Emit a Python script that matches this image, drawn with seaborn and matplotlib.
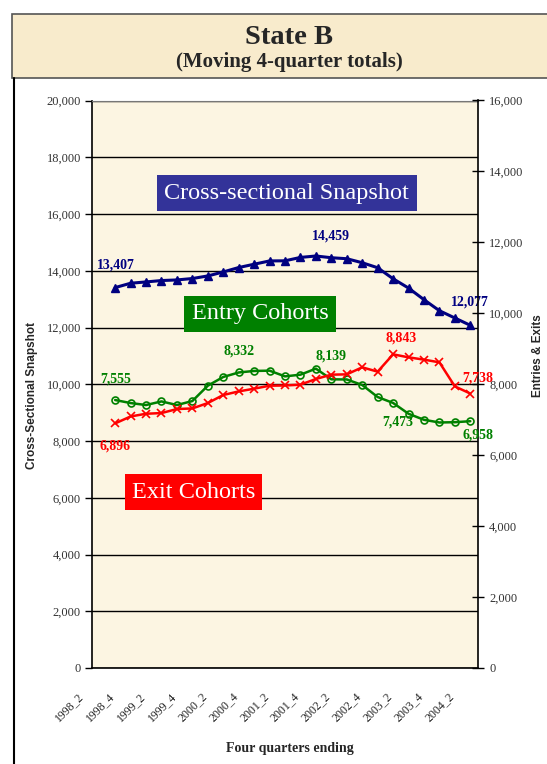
import matplotlib
matplotlib.use("Agg")
import matplotlib.pyplot as plt
import matplotlib.transforms as mtransforms
from matplotlib.patches import Rectangle
from matplotlib.lines import Line2D
from matplotlib.ticker import FuncFormatter, MultipleLocator
import seaborn as sns

# category axis: four quarters ending (first category has no data)
quarters = ["1998_2", "1998_3", "1998_4", "1999_1", "1999_2", "1999_3", "1999_4",
            "2000_1", "2000_2", "2000_3", "2000_4", "2001_1", "2001_2", "2001_3",
            "2001_4", "2002_1", "2002_2", "2002_3", "2002_4", "2003_1", "2003_2",
            "2003_3", "2003_4", "2004_1", "2004_2"]
data_quarters = quarters[1:]

# moving 4-quarter totals, 1998_3 .. 2004_2
snapshot = [13407, 13560, 13606, 13655, 13676, 13726, 13817, 13958, 14113, 14230,
            14346, 14350, 14470, 14520, 14459, 14424, 14283, 14106, 13718, 13390,
            12981, 12592, 12335, 12077]
entry = [7555, 7470, 7414, 7516, 7414, 7527, 7959, 8205, 8332, 8375,
         8383, 8222, 8270, 8440, 8139, 8135, 7979, 7640, 7473, 7168,
         6998, 6922, 6930, 6958]
exits = [6896, 7092, 7168, 7188, 7301, 7318, 7470, 7697, 7798, 7875,
         7959, 7965, 7988, 8149, 8270, 8279, 8477, 8355, 8843, 8759,
         8694, 8618, 7940, 7738]

# which points carry a value label
snapshot_labels = ["1998_3", "2002_1", "2004_2"]
entry_labels = ["1998_3", "2000_3", "2002_1", "2003_1", "2004_2"]
exit_labels = ["1998_3", "2003_1", "2004_2"]

NAVY = "#000080"
GREEN = "#008000"
RED = "#FF0000"
SERIF = ["Liberation Serif", "DejaVu Serif"]
SANS = ["Liberation Sans", "DejaVu Sans"]

sns.set_style("white")
plt.rcParams["font.family"] = SERIF

fig = plt.figure(figsize=(5.47, 7.64), dpi=100)
ax = fig.add_axes([92 / 547, 1 - 668 / 764, 386 / 547, 567.5 / 764])
ax2 = ax.twinx()

pos = {q: i for i, q in enumerate(quarters)}
xs = [pos[q] for q in data_quarters]

sns.lineplot(x=xs, y=snapshot, ax=ax, color=NAVY, linewidth=2.2, marker="^",
             markersize=5.5, markeredgecolor=NAVY, markeredgewidth=1)
sns.lineplot(x=xs, y=entry, ax=ax2, color=GREEN, linewidth=1.8, marker="o",
             markersize=5, markerfacecolor="none", markeredgecolor=GREEN,
             markeredgewidth=1.2)
sns.lineplot(x=xs, y=exits, ax=ax2, color=RED, linewidth=1.8, marker="x",
             markersize=6, markeredgecolor=RED, markeredgewidth=1.2)

ax.set_xlim(-0.5, len(quarters) - 0.5)
ax.set_ylim(0, 20000)
ax2.set_ylim(0, 16000)
ax.set_facecolor("#FCF5E2")
ax.yaxis.set_major_locator(MultipleLocator(2000))
ax2.yaxis.set_major_locator(MultipleLocator(2000))
fmt = FuncFormatter(lambda v, p: f"{int(v):,}")
ax.yaxis.set_major_formatter(fmt)
ax2.yaxis.set_major_formatter(fmt)
ax.grid(axis="y", color="black", linewidth=1)
ax.grid(axis="x", visible=False)
ax2.grid(False)

# x ticks: labels every other quarter, tick marks on category boundaries
ax.set_xticks(range(0, len(quarters), 2))
ax.set_xticklabels(quarters[::2], rotation=45, ha="right", va="top",
                   fontsize=8.5, color="#222222")
ax.set_xticks([i - 0.5 for i in range(len(quarters) + 1)], minor=True)
ax.tick_params(axis="x", which="major", length=0, pad=16)
ax.tick_params(axis="x", which="minor", length=4, width=1, color="black",
               direction="out")
shift = mtransforms.ScaledTranslation(-14 / 100, 0, fig.dpi_scale_trans)
for lab in ax.get_xticklabels():
    lab.set_transform(lab.get_transform() + shift)

ax.tick_params(axis="y", length=5, width=1, color="black", direction="out",
               labelsize=9, labelcolor="#333333", pad=3, left=True)
ax2.tick_params(axis="y", length=8, width=1, color="black", direction="inout",
                labelsize=9, labelcolor="#333333", pad=4, right=True)

for spine in ["left", "bottom"]:
    ax.spines[spine].set_color("black")
    ax.spines[spine].set_linewidth(1.2)
ax.spines["top"].set_color("#777777")
ax.spines["right"].set_visible(False)
ax2.spines["right"].set_color("black")
ax2.spines["right"].set_linewidth(1.2)
for spine in ["left", "top", "bottom"]:
    ax2.spines[spine].set_visible(False)

ax.set_xlabel("Four quarters ending", fontsize=10, fontweight="bold")
ax.xaxis.set_label_coords(0.513, -0.13)
ax.set_ylabel("Cross-Sectional Snapshot", fontsize=8.5, fontweight="bold",
              family=SANS)
ax.yaxis.set_label_coords(-0.14, 0.48)
ax2.set_ylabel("Entries & Exits", fontsize=8.5, fontweight="bold", family=SANS)
ax2.yaxis.set_label_coords(1.14, 0.55)

# value labels (offsets in pixels from the point)
def label_points(axis, labels, values, color, offsets):
    for q, (dx, dy) in zip(labels, offsets):
        v = values[data_quarters.index(q)]
        axis.annotate(f"{v:,}", (pos[q], v), xytext=(dx, dy),
                      textcoords="offset pixels", ha="center", va="center",
                      fontsize=10, fontweight="bold", color=color)

label_points(ax, snapshot_labels, snapshot, NAVY, [(1, 23), (0, 22), (0, 23)])
label_points(ax2, entry_labels, entry, GREEN,
             [(1, 21), (0, 21), (0, 23), (5, -19), (8, -14)])
label_points(ax2, exit_labels, exits, RED, [(0, -23), (8, 16), (7, 16)])

# series name boxes
box_text = dict(fontsize=17.5, color="white", ha="center", va="center",
                transform=ax.transAxes)
ax2.text(0.505, 0.837, "Cross-sectional Snapshot",
         bbox=dict(boxstyle="square,pad=0.3", fc="#333399", ec="none"), **box_text)
ax2.text(0.435, 0.624, "Entry Cohorts",
         bbox=dict(boxstyle="square,pad=0.3", fc=GREEN, ec="none"), **box_text)
ax2.text(0.263, 0.310, "Exit Cohorts",
         bbox=dict(boxstyle="square,pad=0.3", fc=RED, ec="none"), **box_text)

# title panel and outer frame
fig.patches.append(Rectangle((12 / 547, 1 - 78 / 764), 1.0, 64 / 764,
                             transform=fig.transFigure, facecolor="#F8EBCC",
                             edgecolor="#555555", linewidth=1.2, zorder=0))
fig.lines.append(Line2D([14 / 547, 14 / 547], [0, 1 - 78 / 764],
                        transform=fig.transFigure, color="black", linewidth=1.5))
fig.text(289 / 547, 1 - 38 / 764, "State B", ha="center", va="center",
         fontsize=20.5, fontweight="bold")
fig.text(289 / 547, 1 - 62 / 764, "(Moving 4-quarter totals)", ha="center",
         va="center", fontsize=15, fontweight="bold")

fig.savefig("out.png", dpi=100)
